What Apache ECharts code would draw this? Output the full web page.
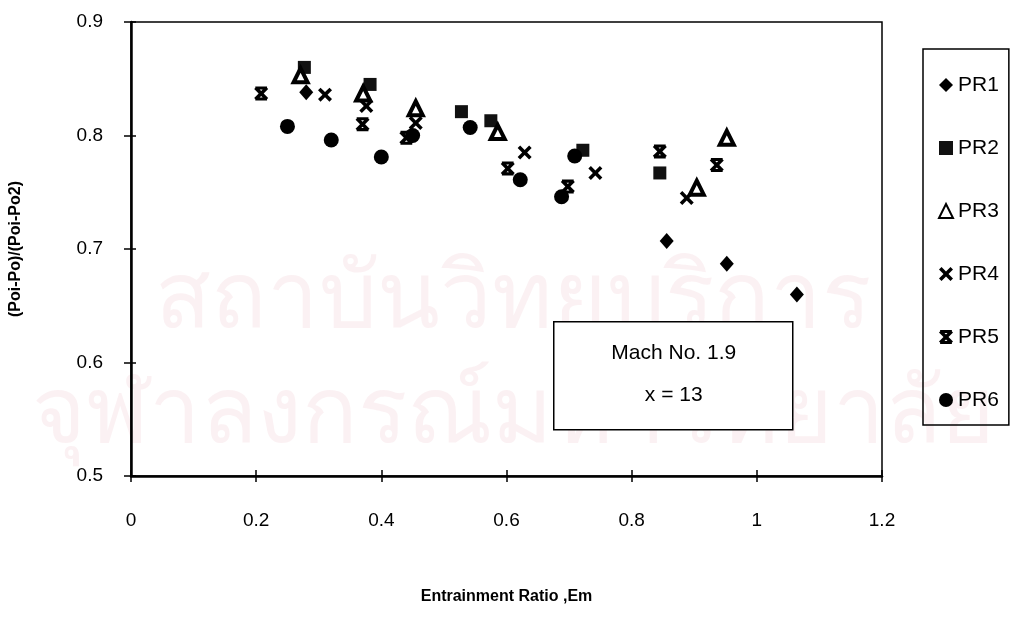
<!DOCTYPE html>
<html>
<head>
<meta charset="utf-8">
<script src="https://cdn.jsdelivr.net/npm/echarts@6/dist/echarts.min.js"></script>
<style>
  html, body { margin: 0; padding: 0; background: #fff; }
  #chart { width: 1026px; height: 637px; }
</style>
</head>
<body>
<div id="chart"></div>
<script>
// Measured pressure-recovery ratio against entrainment ratio, six pressure ratios
const seriesNames = ['PR1', 'PR2', 'PR3', 'PR4', 'PR5', 'PR6'];

const pr1 = [[0.28, 0.838], [0.856, 0.707], [0.952, 0.687], [1.064, 0.660]];
const pr2 = [[0.277, 0.860], [0.382, 0.845], [0.528, 0.821], [0.575, 0.813], [0.722, 0.787], [0.845, 0.767]];
const pr3 = [[0.271, 0.853], [0.371, 0.837], [0.455, 0.824], [0.586, 0.803], [0.904, 0.754], [0.952, 0.798]];
const pr4 = [[0.31, 0.836], [0.376, 0.826], [0.455, 0.811], [0.629, 0.785], [0.742, 0.767], [0.888, 0.745]];
const pr5 = [[0.208, 0.837], [0.370, 0.810], [0.44, 0.798], [0.602, 0.771], [0.698, 0.755], [0.845, 0.786], [0.936, 0.774]];
const pr6 = [[0.25, 0.808], [0.32, 0.796], [0.40, 0.781], [0.45, 0.800], [0.542, 0.807], [0.622, 0.761], [0.688, 0.746], [0.709, 0.782]];

const xRange = [0, 1.2, 0.2];
const yRange = [0.5, 0.9, 0.1];

const xName = 'Entrainment Ratio ,Em';
const yName = '(Poi-Po)/(Poi-Po2)';
const noteLines = ['Mach No. 1.9', 'x = 13'];
const stampLines = ['สถาบันวิทยบริการ', 'จุฬาลงกรณ์มหาวิทยาลัย'];

// marker shapes
const crossPath = 'path://M0,18 L18,0 L50,32 L82,0 L100,18 L68,50 L100,82 L82,100 L50,68 L18,100 L0,82 L32,50 Z';
const starPath = 'path://M0,18 L18,0 L50,32 L82,0 L100,18 L68,50 L100,82 L82,100 L50,68 L18,100 L0,82 L32,50 Z' +
  ' M8,0 L92,0 L92,22 L8,22 Z M8,78 L92,78 L92,100 L8,100 Z';

const FONT = 'Liberation Sans, Arial, sans-serif';

const styles = [
  { symbol: 'diamond', size: [14, 16], itemStyle: { color: '#000', opacity: 1 } },
  { symbol: 'rect', size: 13, itemStyle: { color: '#111', opacity: 1 } },
  { symbol: 'triangle', size: [14, 14], itemStyle: { color: '#fff', borderColor: '#000', borderWidth: 4, opacity: 1 } },
  { symbol: crossPath, size: 14, itemStyle: { color: '#000', opacity: 1 } },
  { symbol: starPath, size: [14, 14], itemStyle: { color: '#000', opacity: 1 } },
  { symbol: 'circle', size: 15, itemStyle: { color: '#000', opacity: 1 } }
];
const datasets = [pr1, pr2, pr3, pr4, pr5, pr6];

const chart = echarts.init(document.getElementById('chart'), null, { renderer: 'canvas' });

const fmt = v => String(+v.toFixed(1));

const option = {
  backgroundColor: '#fff',
  animation: false,
  textStyle: { fontFamily: FONT, color: '#000' },
  grid: {
    left: 130, right: 144, top: 22, bottom: 161,
    show: true, borderColor: '#000', borderWidth: 1.5, backgroundColor: 'transparent'
  },
  legend: {
    orient: 'vertical',
    left: 923, top: 49,
    data: seriesNames,
    itemWidth: 14, itemHeight: 14,
    itemGap: 41, itemTextGap: 21,
    padding: [25, 10, 14, 15],
    borderColor: '#000', borderWidth: 1.5,
    textStyle: { fontFamily: FONT, fontSize: 21, color: '#000', lineHeight: 22 }
  },
  xAxis: [{
    type: 'value', min: xRange[0], max: xRange[1], interval: xRange[2],
    name: xName, nameLocation: 'middle', nameGap: 113,
    nameTextStyle: { fontFamily: FONT, fontSize: 16, color: '#000', fontWeight: 'bold' },
    axisLine: { show: true, onZero: false, lineStyle: { color: '#000', width: 2.5 } },
    axisTick: { show: true, inside: false, length: 6, lineStyle: { color: '#000', width: 1.5 } },
    axisLabel: { margin: 35, fontSize: 19, color: '#000', formatter: fmt },
    splitLine: { show: false }
  }, {
    type: 'value', min: xRange[0], max: xRange[1], interval: xRange[2], position: 'bottom',
    axisLine: { show: false },
    axisTick: { show: true, inside: true, length: 6, lineStyle: { color: '#000', width: 1.5 } },
    axisLabel: { show: false }, splitLine: { show: false }
  }],
  yAxis: [{
    type: 'value', min: yRange[0], max: yRange[1], interval: yRange[2],
    name: yName, nameLocation: 'middle', nameGap: 107,
    nameTextStyle: { fontFamily: FONT, fontSize: 16, color: '#000', fontWeight: 'bold' },
    axisLine: { show: true, onZero: false, lineStyle: { color: '#000', width: 2.5 } },
    axisTick: { show: true, inside: false, length: 7, lineStyle: { color: '#000', width: 1.5 } },
    axisLabel: { margin: 28, fontSize: 19, color: '#000', formatter: fmt },
    splitLine: { show: false }
  }, {
    type: 'value', min: yRange[0], max: yRange[1], interval: yRange[2], position: 'left',
    axisLine: { show: false },
    axisTick: { show: true, inside: true, length: 5, lineStyle: { color: '#000', width: 1.5 } },
    axisLabel: { show: false }, splitLine: { show: false }
  }],
  series: datasets.map((d, i) => ({
    name: seriesNames[i],
    type: 'scatter',
    xAxisIndex: 0, yAxisIndex: 0,
    data: d,
    symbol: styles[i].symbol,
    symbolSize: styles[i].size,
    itemStyle: styles[i].itemStyle,
    z: 3
  })),
  graphic: [
    // faint library stamp behind the plot
    { type: 'text', left: 'center', top: 255, z: -10, silent: true,
      style: { text: stampLines[0], fontFamily: 'Noto Sans, DejaVu Sans, sans-serif', fontSize: 92,
        fill: 'rgba(215,120,140,0.10)' } },
    { type: 'text', left: 'center', top: 370, z: -10, silent: true,
      style: { text: stampLines[1], fontFamily: 'Noto Sans, DejaVu Sans, sans-serif', fontSize: 92,
        fill: 'rgba(215,120,140,0.10)' } },
    {
      type: 'group', left: 553, top: 321, z: 10,
      children: [
        { type: 'rect', shape: { x: 0, y: 0, width: 239, height: 108 },
          style: { fill: '#fff', stroke: '#000', lineWidth: 1.5 } },
        { type: 'text', x: 120, y: 31,
          style: { text: noteLines[0], fontFamily: FONT, fontSize: 21, fill: '#000', align: 'center', verticalAlign: 'middle' } },
        { type: 'text', x: 120, y: 73,
          style: { text: noteLines[1], fontFamily: FONT, fontSize: 21, fill: '#000', align: 'center', verticalAlign: 'middle' } }
      ]
    }
  ]
};

chart.setOption(option);
</script>
</body>
</html>
